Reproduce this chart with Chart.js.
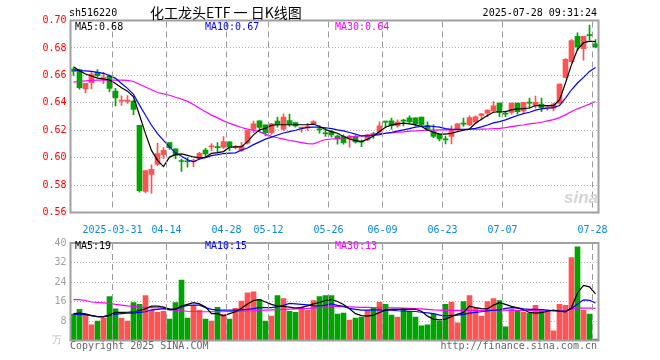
<!DOCTYPE html>
<html>
<head>
<meta charset="utf-8">
<script src="https://cdn.jsdelivr.net/npm/chart.js@4.4.1/dist/chart.umd.min.js"></script>
<style>
  body { margin: 0; background: #fff; width: 660px; height: 360px; overflow: hidden; position: relative;
         font-family: "DejaVu Sans Mono", monospace; font-size: 10px; }
  .t { position: absolute; white-space: nowrap; line-height: 12px; }
  canvas { position: absolute; left: 0; }
</style>
</head>
<body>
<canvas id="chart-k" width="660" height="233" style="top:0"></canvas>
<canvas id="chart-vol" width="660" height="127" style="top:233px"></canvas>

<div class="t" style="left:69px;top:7px">sh516220</div>
<div class="t" style="left:150px;top:4px;font:14px/16px 'Noto Sans CJK SC',sans-serif">化工龙头ETF 一 日K线图</div>
<div class="t" style="right:63px;top:7px">2025-07-28 09:31:24</div>

<div class="t" style="left:75px;top:21px;color:#000">MA5:0.68</div>
<div class="t" style="left:205px;top:21px;color:#0000ff">MA10:0.67</div>
<div class="t" style="left:335px;top:21px;color:#ff00ff">MA30:0.64</div>
<div class="t" style="left:564px;top:189px;font:italic bold 17px/18px 'Liberation Sans',sans-serif;color:#d4d4d4">sina</div>

<div class="t" style="left:75px;top:240px;color:#000">MA5:19</div>
<div class="t" style="left:205px;top:240px;color:#0000ff">MA10:15</div>
<div class="t" style="left:335px;top:240px;color:#ff00ff">MA30:13</div>
<div class="t" style="left:52px;top:334px;color:#bbb">万</div>

<div class="t" style="left:70px;top:340px;color:#666">Copyright 2025 SINA.COM</div>
<div class="t" style="right:63px;top:340px;color:#666">http://finance.sina.com.cn</div>

<script>
// 1. Data
const DATES = [
  '2025-03-20','2025-03-21','2025-03-24','2025-03-25','2025-03-26','2025-03-27','2025-03-28','2025-03-31',
  '2025-04-01','2025-04-02','2025-04-03','2025-04-07','2025-04-08','2025-04-09','2025-04-10','2025-04-11','2025-04-14',
  '2025-04-15','2025-04-16','2025-04-17','2025-04-18','2025-04-21','2025-04-22','2025-04-23','2025-04-24','2025-04-25','2025-04-28',
  '2025-04-29','2025-04-30','2025-05-06','2025-05-07','2025-05-08','2025-05-09','2025-05-12',
  '2025-05-13','2025-05-14','2025-05-15','2025-05-16','2025-05-19','2025-05-20','2025-05-21','2025-05-22','2025-05-23','2025-05-26',
  '2025-05-27','2025-05-28','2025-05-29','2025-05-30','2025-06-03','2025-06-04','2025-06-05','2025-06-06','2025-06-09',
  '2025-06-10','2025-06-11','2025-06-12','2025-06-13','2025-06-16','2025-06-17','2025-06-18','2025-06-19','2025-06-20','2025-06-23',
  '2025-06-24','2025-06-25','2025-06-26','2025-06-27','2025-06-30','2025-07-01','2025-07-02','2025-07-03','2025-07-04','2025-07-07',
  '2025-07-08','2025-07-09','2025-07-10','2025-07-11','2025-07-14','2025-07-15','2025-07-16','2025-07-17','2025-07-18',
  '2025-07-21','2025-07-22','2025-07-23','2025-07-24','2025-07-25','2025-07-28'
];

const TICK_DATES  = ['2025-03-31','2025-04-14','2025-04-28','2025-05-12','2025-05-26','2025-06-09','2025-06-23','2025-07-07','2025-07-28'];
const TICK_LABELS = ['2025-03-31','04-14','04-28','05-12','05-26','06-09','06-23','07-07','07-28'];
const PRICE_TICKS = [0.56, 0.58, 0.60, 0.62, 0.64, 0.66, 0.68, 0.70];
const VOL_TICKS   = [0, 8, 16, 24, 32, 40];

const OPEN = [
  .6645,.6642,.6502,.6546,.6622,.6578,.6595,.6485,.6412,.6410,
  .6412,.6236,.5753,.5877,.5950,.6021,.6109,.6065,.5978,.5975,
  .5970,.5992,.6056,.6078,.6077,.6075,.6115,.6073,.6051,.6105,
  .6207,.6268,.6239,.6183,.6266,.6207,.6271,.6256,.6215,.6217,
  .6246,.6210,.6178,.6190,.6158,.6154,.6141,.6154,.6115,.6129,
  .6170,.6188,.6263,.6268,.6232,.6270,.6290,.6290,.6295,.6232,
  .6190,.6171,.6131,.6154,.6207,.6246,.6238,.6258,.6307,.6324,
  .6343,.6397,.6319,.6329,.6397,.6341,.6399,.6380,.6390,.6363,
  .6360,.6397,.6585,.6700,.6885,.6795,.6895,.6829
];
const HIGH = [
  .6655,.6645,.6541,.6627,.6642,.6622,.6602,.6505,.6451,.6453,
  .6420,.6236,.5906,.5948,.6107,.6073,.6112,.6065,.5990,.6000,
  .5990,.6038,.6068,.6102,.6110,.6154,.6115,.6090,.6112,.6200,
  .6266,.6268,.6239,.6251,.6295,.6317,.6317,.6256,.6220,.6251,
  .6271,.6234,.6215,.6198,.6166,.6166,.6163,.6161,.6129,.6171,
  .6183,.6261,.6266,.6288,.6276,.6280,.6305,.6290,.6295,.6261,
  .6239,.6171,.6158,.6232,.6246,.6288,.6304,.6304,.6324,.6348,
  .6409,.6397,.6331,.6397,.6397,.6404,.6434,.6448,.6434,.6380,
  .6397,.6536,.6722,.6861,.6910,.6885,.6966,.6861
];
const LOW = [
  .6600,.6500,.6473,.6502,.6588,.6539,.6480,.6378,.6380,.6395,
  .6314,.5748,.5743,.5741,.5943,.5992,.6060,.5992,.5900,.5930,
  .5935,.5985,.6007,.6051,.6032,.6068,.6051,.6061,.6044,.6098,
  .6183,.6188,.6158,.6170,.6222,.6198,.6227,.6222,.6186,.6198,
  .6239,.6178,.6154,.6150,.6098,.6098,.6076,.6105,.6080,.6124,
  .6141,.6183,.6222,.6207,.6222,.6232,.6251,.6232,.6232,.6198,
  .6146,.6122,.6100,.6100,.6198,.6227,.6233,.6250,.6275,.6299,
  .6331,.6299,.6299,.6317,.6317,.6329,.6360,.6360,.6336,.6346,
  .6341,.6390,.6580,.6690,.6783,.6710,.6861,.6800
];
const CLOSE = [
  .6628,.6510,.6541,.6610,.6598,.6588,.6505,.6436,.6420,.6419,
  .6351,.5760,.5906,.5914,.6029,.6053,.6073,.6016,.5972,.5970,
  .5978,.6031,.6027,.6083,.6073,.6117,.6078,.6080,.6085,.6198,
  .6246,.6220,.6183,.6246,.6241,.6295,.6244,.6232,.6219,.6227,
  .6263,.6202,.6173,.6166,.6137,.6110,.6158,.6115,.6112,.6166,
  .6168,.6232,.6259,.6234,.6259,.6266,.6261,.6246,.6239,.6207,
  .6154,.6137,.6129,.6207,.6246,.6244,.6292,.6297,.6319,.6346,
  .6378,.6329,.6317,.6397,.6336,.6404,.6397,.6404,.6365,.6370,
  .6390,.6536,.6717,.6854,.6807,.6885,.6890,.6807
];

// volume, unit 万
const VOLUME = [
  10.8,12.8,10.4,6.4,8,9.2,18,13,9.2,8,
  15.6,14.8,18.4,12.4,11.6,12,8.8,15.6,24.8,9.2,
  14.4,12.4,8.8,8,13.6,10.6,8.8,13.2,16.2,19.6,
  20,16.8,8,10,18.4,17.2,12,11.6,13.6,12.4,
  16.4,18,18.4,18.4,10.8,11.2,8.4,9.2,9.6,12.4,
  13.6,15.7,14.8,10.4,9.6,13.2,12,9.6,6,6.4,
  10.8,8,14.8,15.7,7.2,16,18.4,13.2,10,16,
  17.2,16.4,5.6,12.8,12.4,11.6,11.2,14.4,12,12,
  4,14.8,14.4,34,38.4,12.4,10.8,0.6
];

const MA5 = [
  .6663,.6634,.6610,.6595,.6580,.6573,.6566,.6540,.6510,.6485,
  .6444,.6309,.6175,.6053,.5980,.5935,.6004,.6022,.6027,.6017,
  .6005,.5998,.6003,.6031,.6036,.6044,.6076,.6078,.6080,.6117,
  .6166,.6202,.6215,.6235,.6240,.6240,.6240,.6240,.6240,.6240,
  .6245,.6227,.6205,.6190,.6178,.6154,.6136,.6124,.6117,.6134,
  .6158,.6190,.6222,.6239,.6246,.6251,.6246,.6239,.6227,.6202,
  .6185,.6171,.6171,.6178,.6190,.6200,.6209,.6251,.6280,.6307,
  .6331,.6336,.6336,.6348,.6356,.6358,.6362,.6380,.6380,.6380,
  .6380,.6421,.6544,.6678,.6788,.6837,.6849,.6846
];
const MA10 = [
  .6639,.6634,.6632,.6629,.6622,.6615,.6598,.6578,.6541,.6505,
  .6461,.6383,.6309,.6236,.6175,.6126,.6078,.6035,.6010,.5985,
  .5970,.5990,.6000,.6015,.6022,.6030,.6033,.6035,.6056,.6070,
  .6095,.6115,.6135,.6150,.6165,.6180,.6190,.6200,.6212,.6220,
  .6222,.6222,.6218,.6212,.6202,.6195,.6183,.6171,.6158,.6158,
  .6163,.6168,.6178,.6185,.6193,.6202,.6212,.6222,.6227,.6232,
  .6227,.6222,.6212,.6207,.6207,.6207,.6209,.6214,.6224,.6238,
  .6253,.6263,.6275,.6292,.6307,.6321,.6331,.6346,.6356,.6360,
  .6365,.6380,.6434,.6495,.6544,.6585,.6629,.6658
];
const MA30 = [
  .6552,.6555,.6560,.6563,.6565,.6565,.6565,.6565,.6565,.6563,
  .6555,.6535,.6515,.6495,.6475,.6465,.6455,.6440,.6428,.6410,
  .6388,.6360,.6335,.6310,.6290,.6268,.6250,.6235,.6220,.6208,
  .6200,.6190,.6170,.6155,.6145,.6135,.6125,.6118,.6110,.6102,
  .6100,.6118,.6132,.6136,.6139,.6145,.6150,.6154,.6158,.6163,
  .6168,.6175,.6178,.6180,.6185,.6188,.6193,.6195,.6198,.6200,
  .6201,.6202,.6203,.6204,.6205,.6205,.6206,.6207,.6208,.6209,
  .6211,.6214,.6219,.6226,.6233,.6238,.6246,.6251,.6258,.6268,
  .6277,.6292,.6312,.6336,.6356,.6373,.6390,.6409
];

const VMA5 = [
  11.0,11.2,10.9,10.2,9.8,9.7,10.4,11.5,11.5,11.6,
  11.8,12.3,13.0,14.1,14.1,13.7,12.9,12.9,14.1,14.8,
  15.5,15.0,13.8,11.0,11.0,10.1,11.0,11.8,13.2,15.0,
  16.4,16.8,15.8,14.8,14.1,14.0,13.7,13.3,13.6,14.2,
  15.0,15.6,16.4,16.8,16.0,14.8,13.0,11.0,10.2,10.0,
  10.4,11.5,12.4,12.8,12.8,12.8,12.8,12.8,12.0,10.0,
  8.8,8.5,8.8,9.8,10.8,11.5,14.1,13.5,13.1,13.0,
  14.5,15.5,14.8,14.0,13.4,12.6,11.5,11.2,11.4,12.0,
  12.5,12.0,11.7,13.5,19.5,22.6,22.0,19.1
];
const VMA10 = [
  10.7,10.7,10.6,10.2,9.8,9.8,10.4,10.8,11.0,11.2,
  11.2,11.5,11.8,12.6,12.8,13.1,12.6,12.8,13.8,14.4,
  14.5,14.5,13.5,12.8,12.5,12.5,12.5,12.5,12.6,12.8,
  13.1,13.5,13.5,13.5,13.9,14.4,15.2,15.0,14.8,14.6,
  14.2,14.2,14.5,15.0,14.4,14.0,13.2,12.8,12.5,12.5,
  12.6,12.6,12.5,12.4,12.2,12.1,12.0,11.9,11.6,11.3,
  11.0,10.4,10.1,10.3,10.4,10.7,11.2,11.5,11.8,12.1,
  12.4,12.6,13.2,13.5,13.4,13.0,12.8,12.8,12.7,12.5,
  12.2,12.1,12.1,13.0,15.0,16.7,16.5,15.4
];
const VMA30 = [
  16.8,16.8,16.4,15.8,15.6,15.4,15.2,14.8,14.5,14.2,
  14.0,13.7,13.6,13.5,13.4,13.2,12.8,12.4,12.2,12.0,
  11.9,11.8,11.8,11.8,11.8,11.8,11.9,11.9,12.0,12.1,
  12.2,12.4,12.5,12.6,12.7,12.8,12.9,13.0,13.1,13.2,
  13.4,13.6,13.8,14.0,14.0,13.9,13.8,13.7,13.6,13.6,
  13.5,13.5,13.5,13.4,13.4,13.3,13.2,13.1,13.0,12.8,
  12.6,12.5,12.4,12.4,12.4,12.4,12.4,12.4,12.4,12.5,
  12.5,12.5,12.5,12.4,12.4,12.4,12.3,12.3,12.2,12.2,
  12.1,12.1,12.2,12.8,13.4,13.3,13.3,13.2
];

// 2. Styling helpers
const RED = '#ff5353';
const GREEN = '#00a400';
const GRID = '#b4b4b4';
const DASH_GRID = '#9a9a9a';
const MONO = { family: 'DejaVu Sans Mono', size: 10 };

const candleColors = DATES.map((d, i) => CLOSE[i] >= OPEN[i] ? RED : GREEN);
const tickIdx = TICK_DATES.map(d => DATES.indexOf(d));

// frame round each plot area, plus the dashed date lines on the left edge
// of each labelled day (positions from the x scale)
const framePlugin = {
  id: 'frame',
  afterDraw(chart) {
    const { ctx, chartArea: a, scales: { x } } = chart;
    const half = (x.getPixelForValue(1) - x.getPixelForValue(0)) / 2;
    ctx.save();
    ctx.strokeStyle = DASH_GRID;
    ctx.lineWidth = 1;
    ctx.setLineDash([6, 4]);
    tickIdx.forEach(i => {
      const px = Math.floor(x.getPixelForValue(i) - half) + 0.5;
      ctx.beginPath();
      ctx.moveTo(px, a.top + 1);
      ctx.lineTo(px, a.bottom - 1);
      ctx.stroke();
    });
    ctx.setLineDash([]);
    ctx.strokeStyle = '#a0a0a0';
    ctx.lineWidth = 2;
    ctx.strokeRect(a.left, a.top, a.right - a.left, a.bottom - a.top);
    ctx.restore();
  }
};

const xAxis = (showLabels) => ({
  offset: true,
  grid: { display: false },
  border: { display: false },
  ticks: {
    display: showLabels,
    autoSkip: false,
    maxRotation: 0,
    minRotation: 0,
    labelOffset: -3,
    padding: 4,
    color: '#0a88dd',
    font: MONO,
    callback: (v, i) => {
      const k = tickIdx.indexOf(i);
      return k >= 0 ? TICK_LABELS[k] : '';
    }
  },
  afterFit: s => { s.height = showLabels ? 20.5 : 19.5; }
});

const lineSet = (data, color) => ({
  type: 'line', data, borderColor: color, borderWidth: 1.2,
  pointRadius: 0, tension: 0, order: 0
});

// 3. K-line chart
new Chart(document.getElementById('chart-k'), {
  type: 'bar',
  data: {
    labels: DATES,
    datasets: [
      lineSet(MA5, '#000000'),
      lineSet(MA10, '#0000ff'),
      lineSet(MA30, '#ff00ff'),
      {
        data: DATES.map((d, i) => [LOW[i], HIGH[i]]),
        backgroundColor: candleColors, barThickness: 1, grouped: false, order: 2
      },
      {
        data: DATES.map((d, i) => [OPEN[i], CLOSE[i]]),
        backgroundColor: candleColors, barThickness: 5, minBarLength: 1, grouped: false, order: 1
      }
    ]
  },
  options: {
    responsive: false,
    animation: false,
    layout: { padding: { left: 0, right: 61.5, top: 20.5, bottom: 0 } },
    plugins: { legend: { display: false }, tooltip: { enabled: false } },
    scales: {
      x: xAxis(true),
      y: {
        min: 0.56, max: 0.70,
        afterBuildTicks: s => { s.ticks = PRICE_TICKS.map(v => ({ value: v })); },
        grid: { color: GRID, drawTicks: false },
        border: { display: false, dash: [1, 2] },
        ticks: { color: '#ff0000', padding: 4, font: MONO, callback: v => Number(v).toFixed(2) },
        afterFit: s => { s.width = 70.5; }
      }
    }
  },
  plugins: [framePlugin]
});

// 4. Volume chart
new Chart(document.getElementById('chart-vol'), {
  type: 'bar',
  data: {
    labels: DATES,
    datasets: [
      lineSet(VMA5, '#000000'),
      lineSet(VMA10, '#0000ff'),
      lineSet(VMA30, '#ff00ff'),
      { data: VOLUME, backgroundColor: candleColors, barThickness: 5, grouped: false, order: 1 }
    ]
  },
  options: {
    responsive: false,
    animation: false,
    layout: { padding: { left: 0, right: 61.5, top: 7.5, bottom: 0 } },
    plugins: { legend: { display: false }, tooltip: { enabled: false } },
    scales: {
      x: xAxis(false),
      y: {
        min: 0, max: 40,
        afterBuildTicks: s => { s.ticks = VOL_TICKS.map(v => ({ value: v })); },
        grid: { color: GRID, drawTicks: false },
        border: { display: false, dash: [1, 2] },
        ticks: { color: '#a0a0a0', padding: 4, font: MONO, callback: v => v === 0 ? '' : v },
        afterFit: s => { s.width = 70.5; }
      }
    }
  },
  plugins: [framePlugin]
});
</script>
</body>
</html>
